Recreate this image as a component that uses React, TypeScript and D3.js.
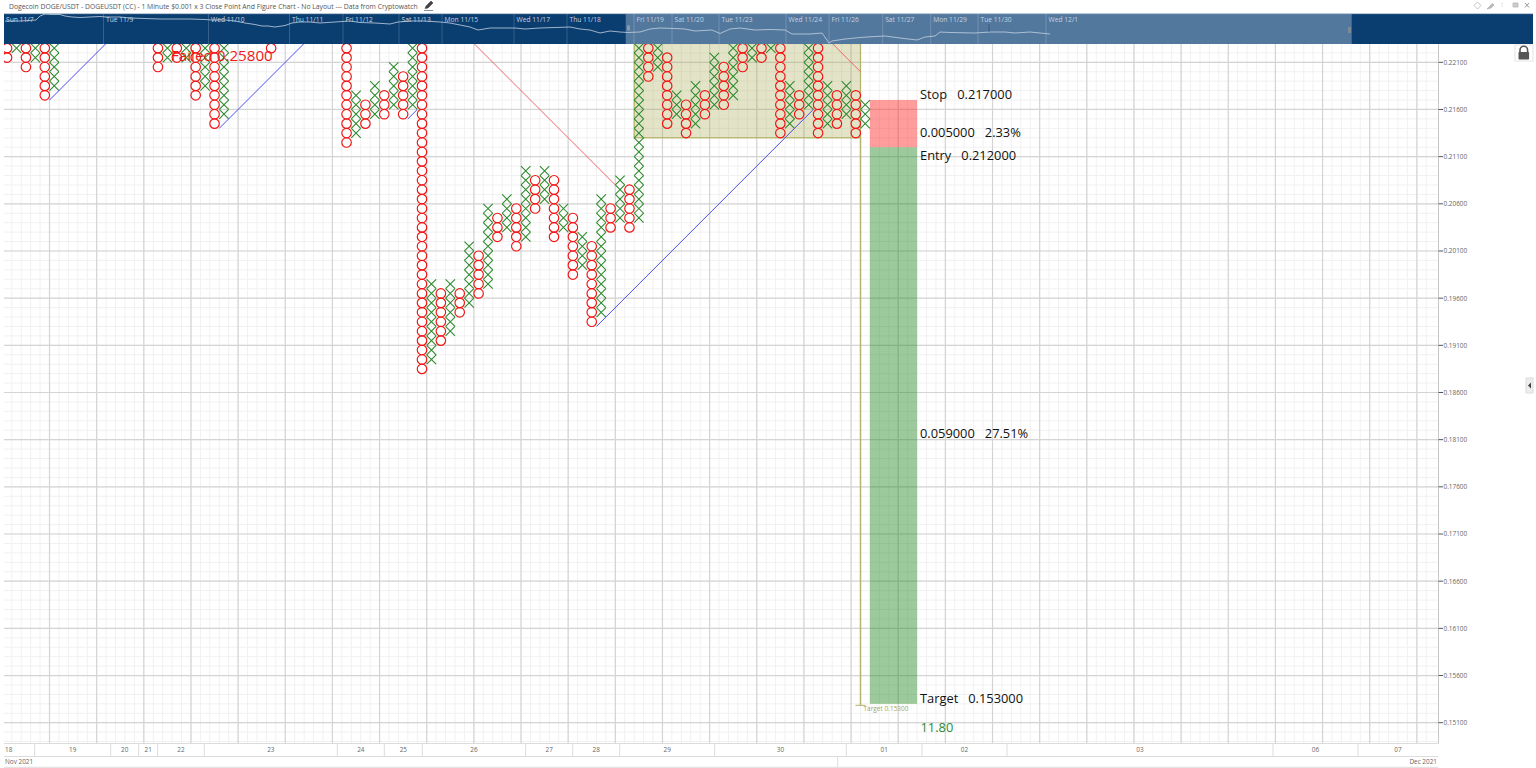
import React from "react";
import * as d3 from "d3";

const FONT = "'Open Sans', 'Noto Sans', sans-serif";

// Point & figure columns: offset from the long O column, type, lowest and highest box (in $0.001, box centres)
const colIndex = [-44,-43,-42,-41,-40,-39,-28,-27,-26,-25,-24,-23,-22,-21,-16,-8,-7,-6,-5,-4,-3,-2,-1,0,1,2,3,4,5,6,7,8,9,10,11,12,13,14,15,16,17,18,19,20,21,22,23,24,25,26,27,28,29,30,31,32,33,34,35,36,37,38,39,40,41,42,43,44,45,46,47];
const colKind = ["O","X","O","X","O","X","O","X","O","X","O","X","O","X","O","O","X","O","X","O","X","O","X","O","X","O","X","O","X","O","X","O","X","O","X","O","X","O","X","O","X","O","X","O","X","O","X","O","X","O","X","O","X","O","X","O","X","O","X","O","X","O","X","O","X","O","X","O","X","O","X"];
const colLow = [221.5,222.5,220.5,221.5,217.5,218.5,220.5,221.5,221.5,221.5,217.5,218.5,214.5,215.5,222.5,212.5,213.5,214.5,215.5,215.5,216.5,215.5,216.5,188.5,189.5,191.5,192.5,194.5,195.5,196.5,197.5,202.5,203.5,201.5,202.5,205.5,206.5,202.5,203.5,198.5,199.5,193.5,194.5,203.5,204.5,203.5,204.5,219.5,220.5,214.5,215.5,213.5,214.5,215.5,216.5,216.5,217.5,220.5,221.5,221.5,222.5,213.5,214.5,215.5,216.5,213.5,214.5,214.5,215.5,213.5,214.5];
const colHigh = [224.5,224.5,224.5,224.5,224.5,224.5,224.5,224.5,224.5,224.5,224.5,224.5,224.5,224.5,222.5,224.5,217.5,216.5,218.5,217.5,220.5,219.5,224.5,224.5,197.5,196.5,197.5,196.5,201.5,200.5,205.5,204.5,206.5,205.5,209.5,208.5,209.5,208.5,205.5,204.5,202.5,201.5,206.5,205.5,208.5,207.5,224.5,224.5,224.5,221.5,217.5,216.5,218.5,217.5,221.5,220.5,224.5,222.5,224.5,222.5,224.5,224.5,218.5,217.5,224.5,224.5,218.5,217.5,218.5,217.5,216.5];

// Trend lines as [column, price, column, price]
const blueTrends = [[-39.5,217,-33.5,223],[-21.5,214,-12.5,223],[-1.5,215,-0.5,216],[18.5,193,41.5,216]];
const redTrends = [[5.5,223,20.5,208],[43.5,223,46.5,220]];

// Horizontal count box and trade levels
const countBox = { left: 22.5, right: 46.5, low: 213, high: 223 };
const targetPrice = 153, entryPrice = 212, stopPrice = 217;
const tradeLeft = 47.5, tradeRight = 52.5;

const priceTicks = [221,216,211,206,201,196,191,186,181,176,171,166,161,156,151];
const dayEdges = [4,34.7,110.7,138.7,157.7,204.3,337.3,384.3,422.3,525.7,572.7,619.7,714.7,846.3,922,1007,1273,1358,1438];
const dayLabels = ["18","19","20","21","22","23","24","25","26","27","28","29","30","01","02","03","06","07"];

const navDates = ["Tue 11/9","Wed 11/10","Thu 11/11","Fri 11/12","Sat 11/13","Mon 11/15","Wed 11/17","Thu 11/18","Fri 11/19","Sat 11/20","Tue 11/23","Wed 11/24","Fri 11/26","Sat 11/27","Mon 11/29","Tue 11/30","Wed 12/1"];
const navDateX = [103.5,208.5,289.5,343,399,442,514,567,634,672,719,786,829,882.7,930.7,978,1046];
const navLineX = [5,20,36,40,45,52,60,65,72,80,90,100,106,120,130,145,160,175,190,205,212,225,235,245,255,262,268,275,285,292,300,310,320,335,342,350,360,375,390,398,410,425,440,450,460,470,478,490,505,515,525,540,555,570,580,590,600,610,620,628,640,650,660,675,685,695,712,720,730,740,755,770,785,792,810,822,829,832,845,860,875,885,900,917,925,935,940,950,975,990,1005,1015,1030,1050];
const navLineY = [21,21,20,16,14,14.5,14.5,16,17,17.5,17,16.5,17,17,18,18.5,19,19,19,19.5,20,20,21,23,24.5,26,26,27,25.5,23,22,22,23,22,21.5,21,22.5,23,24,22,21,21,22,23,25,27,30,28,28,28,29,28,27.5,27,29,30,33,31,32,32.5,32,29,28,28.5,29,31,30,33.5,29,28,30,29.5,30,34,34,33,43,41,39,37.5,36.5,36,38,40,37,36,32,32.5,33,32,32,33,32,34];

const TITLE = "Dogecoin DOGE/USDT - DOGEUSDT (CC) - 1 Minute $0.001 x 3 Close Point And Figure Chart - No Layout --- Data from Cryptowatch";

const plotL = 4, plotR = 1438.5, plotT = 44, plotB = 743.5;
const x = d3.scaleLinear().domain([0, 100]).range([422, 1365]);
const y = d3.scaleLinear().domain([221, 151]).range([62.3, 722.7]);
const GREEN = "#2a8a2a", RED = "#f31212", OLIVE = "#b4b46a";
const half = 4.72;

function Column({ i }: { i: number }) {
  const boxes = d3.range(colLow[i], colHigh[i] + 0.01, 1);
  const cx = x(colIndex[i]);
  return (
    <g>
      {boxes.map((b) =>
        colKind[i] === "O" ? (
          <circle key={b} cx={cx} cy={y(b)} r={4.75} fill="none" stroke={RED} strokeWidth={1.15} />
        ) : (
          <path key={b} d={`M${cx - half},${y(b) - half}L${cx + half},${y(b) + half}M${cx + half},${y(b) - half}L${cx - half},${y(b) + half}`} fill="none" stroke={GREEN} strokeWidth={1.05} />
        )
      )}
    </g>
  );
}

export default function App() {
  const minorX = d3.range(-44.5, 107, 1).filter((k) => x(k) < plotR - 1);
  const minorY = d3.range(146, 224, 1).filter((p) => y(p) > plotT && y(p) < plotB);
  const majorX = minorX.filter((k) => ((k + 39.5) % 5 + 5) % 5 === 0);
  const navPath = d3.line<number>().x((_, i) => navLineX[i]).y((d) => d)(navLineY) as string;
  const bigText = { fontFamily: FONT, fontSize: 12.85, fill: "#111", whiteSpace: "pre" as const };
  const smallText = { fontFamily: FONT, fontSize: 6.4, fill: "#666" };
  const navText = { fontFamily: FONT, fontSize: 6.7, fill: "#c4d2e0" };
  const trade = { x: x(tradeLeft), w: x(tradeRight) - x(tradeLeft) };
  return (
    <svg width={1536} height={768} style={{ position: "absolute", left: 0, top: 0, display: "block", background: "#fff" }}>
      <defs>
        <clipPath id="plot"><rect x={plotL} y={plotT} width={plotR - plotL} height={plotB - plotT} /></clipPath>
      </defs>
      <text x={9} y={8.6} style={{ fontFamily: FONT, fontSize: 6.8, fill: "#555" }}>{TITLE}</text>
      <path d="M425,8.5l1,-2.5l5,-5l2,2l-5,5zM424,10.5h9" fill="#444" stroke="#444" strokeWidth={0.6} />
      <g fill="none" stroke="#b5b5b5" strokeWidth={0.8}>
        <path d="M1477.5,2l3.5,3.5l-3.5,3.5l-3.5,-3.5z" />
        <path d="M1487,9l3,-3l2,-2.5l2,1.5l-3,3z" fill="#bbb" />
        <path d="M1502,3v5" strokeDasharray="1 1.5" />
        <path d="M1513,3h5v4h-5z" fill="#ccc" />
        <path d="M1525,3l4,4.5M1529,3l-4,4.5" stroke="#999" strokeWidth={1} />
      </g>

      {/* grid */}
      <g clipPath="url(#plot)">
        {minorY.map((p) => <line key={p} x1={plotL} x2={plotR} y1={y(p)} y2={y(p)} stroke="#f1f1f1" strokeWidth={1} />)}
        {minorX.map((k) => <line key={k} x1={x(k)} x2={x(k)} y1={plotT} y2={plotB} stroke="#f1f1f1" strokeWidth={1} />)}
        {priceTicks.map((p) => <line key={p} x1={plotL} x2={plotR} y1={y(p)} y2={y(p)} stroke="#d4d4d4" strokeWidth={1.2} />)}
        {majorX.map((k) => <line key={k} x1={x(k)} x2={x(k)} y1={plotT} y2={plotB} stroke="#d4d4d4" strokeWidth={1.2} />)}
      </g>

      {/* count box */}
      <rect x={x(countBox.left)} y={y(countBox.high)} width={x(countBox.right) - x(countBox.left)} height={y(countBox.low) - y(countBox.high)} fill="rgb(161,161,72)" fillOpacity={0.3} stroke={OLIVE} strokeWidth={1.3} clipPath="url(#plot)" />
      <line x1={x(countBox.right)} x2={x(countBox.right)} y1={y(countBox.low)} y2={y(targetPrice) + 1.5} stroke={OLIVE} strokeWidth={1.5} />
      <line x1={x(countBox.right) - 5} x2={x(countBox.right) + 5} y1={y(targetPrice) + 1.5} y2={y(targetPrice) + 1.5} stroke={OLIVE} strokeWidth={1} />
      <text x={x(countBox.right) + 3} y={y(targetPrice) + 6.8} style={{ fontFamily: FONT, fontSize: 6.5, fill: "#a5a55a" }}>Target 0.15300</text>

      {/* trade zones */}
      <rect x={trade.x} y={y(stopPrice)} width={trade.w} height={y(entryPrice) - y(stopPrice)} fill="rgb(255,40,40)" fillOpacity={0.46} />
      <rect x={trade.x} y={y(entryPrice)} width={trade.w} height={y(targetPrice) - y(entryPrice)} fill="rgb(40,140,40)" fillOpacity={0.46} />

      {/* marks */}
      <g clipPath="url(#plot)">
        {colIndex.map((_, i) => <Column key={i} i={i} />)}
        {blueTrends.map((t, i) => <line key={i} x1={x(t[0])} y1={y(t[1])} x2={x(t[2])} y2={y(t[3])} stroke="#4c4cf0" strokeWidth={1} />)}
        {redTrends.map((t, i) => <line key={i} x1={x(t[0])} y1={y(t[1])} x2={x(t[2])} y2={y(t[3])} stroke="#f06464" strokeWidth={1} />)}
        <text x={171} y={61} style={{ fontFamily: FONT, fontSize: 15.2, fill: "#f01818" }}>Failed 0.25800</text>
      </g>

      {/* trade labels */}
      <text x={920} y={y(stopPrice) - 0.8} style={bigText}>Stop   0.217000</text>
      <text x={920} y={137} style={bigText}>0.005000   2.33%</text>
      <text x={920} y={160} style={bigText}>Entry   0.212000</text>
      <text x={920} y={438} style={bigText}>0.059000   27.51%</text>
      <text x={920} y={703} style={bigText}>Target   0.153000</text>
      <text x={920.5} y={731.5} style={{ ...bigText, fill: "#2e8b2e" }}>11.80</text>

      {/* price axis */}
      <line x1={plotR} x2={plotR} y1={plotT} y2={plotB} stroke="#c8c8c8" strokeWidth={1} />
      {priceTicks.map((p) => (
        <g key={p}>
          <line x1={plotR} x2={plotR + 4.5} y1={y(p)} y2={y(p)} stroke="#555" strokeWidth={1} />
          <text x={plotR + 5} y={y(p) + 2.4} style={smallText}>{"0." + p + "00"}</text>
        </g>
      ))}

      {/* date axis */}
      <g stroke="#dcdcdc" strokeWidth={1}>
        <line x1={plotL} x2={plotR} y1={plotB} y2={plotB} />
        <line x1={plotL} x2={plotR} y1={756.5} y2={756.5} />
        <line x1={plotL} x2={plotR} y1={767.3} y2={767.3} />
        {dayEdges.slice(1, -1).map((e) => <line key={e} x1={e} x2={e} y1={plotB} y2={756.5} />)}
        <line x1={837.7} x2={837.7} y1={756.5} y2={767.3} />
      </g>
      {dayLabels.map((d, i) => (
        <text key={d} x={i === 0 ? 5 : (dayEdges[i] + dayEdges[i + 1]) / 2} y={752.4} textAnchor={i === 0 ? "start" : "middle"} style={smallText}>{d}</text>
      ))}
      <text x={5} y={764} style={smallText}>Nov 2021</text>
      <text x={1437} y={764} textAnchor="end" style={smallText}>Dec 2021</text>

      {/* navigator */}
      <rect x={plotL} y={14} width={1533 - plotL} height={30} fill="#0a3d70" />
      <rect x={625.7} y={14} width={1351.7 - 625.7} height={30} fill="#53789e" />
      <line x1={plotL} x2={1533} y1={13.7} y2={13.7} stroke="#8fa9c4" strokeWidth={0.8} />
      {navDateX.map((nx, i) => <line key={i} x1={nx} x2={nx} y1={14} y2={44} stroke="#fff" strokeOpacity={0.18} />)}
      <path d={navPath} fill="none" stroke="#c4d2e0" strokeWidth={0.8} />
      <line x1={989} x2={989} y1={24} y2={32} stroke="#33506e" strokeWidth={0.8} />
      <rect x={627} y={25.5} width={3} height={5} fill="#8a99a8" />
      <rect x={1348} y={27} width={3} height={6} fill="#7c8a98" />
      <text x={6} y={22} style={navText}>Sun 11/7</text>
      {navDates.map((d, i) => (
        <text key={d} x={navDateX[i] + 2.5} y={22} style={navText}>{d}</text>
      ))}

      {/* lock and side tab */}
      <rect x={1515} y={45} width={18} height={16} fill="#fff" stroke="#e4e4e4" />
      <path d="M1520,52.5v-2.5a3.8,3.8 0 0 1 7.6,0v2.5" fill="none" stroke="#555" strokeWidth={1.6} />
      <rect x={1518.5} y={52} width={10.6} height={7.5} rx={0.8} fill="#555" />
      <rect x={1526} y={378} width={7} height={15} fill="#ededed" stroke="#ddd" />
      <path d="M1531,382.5l-3,3l3,3z" fill="#444" />
    </svg>
  );
}
